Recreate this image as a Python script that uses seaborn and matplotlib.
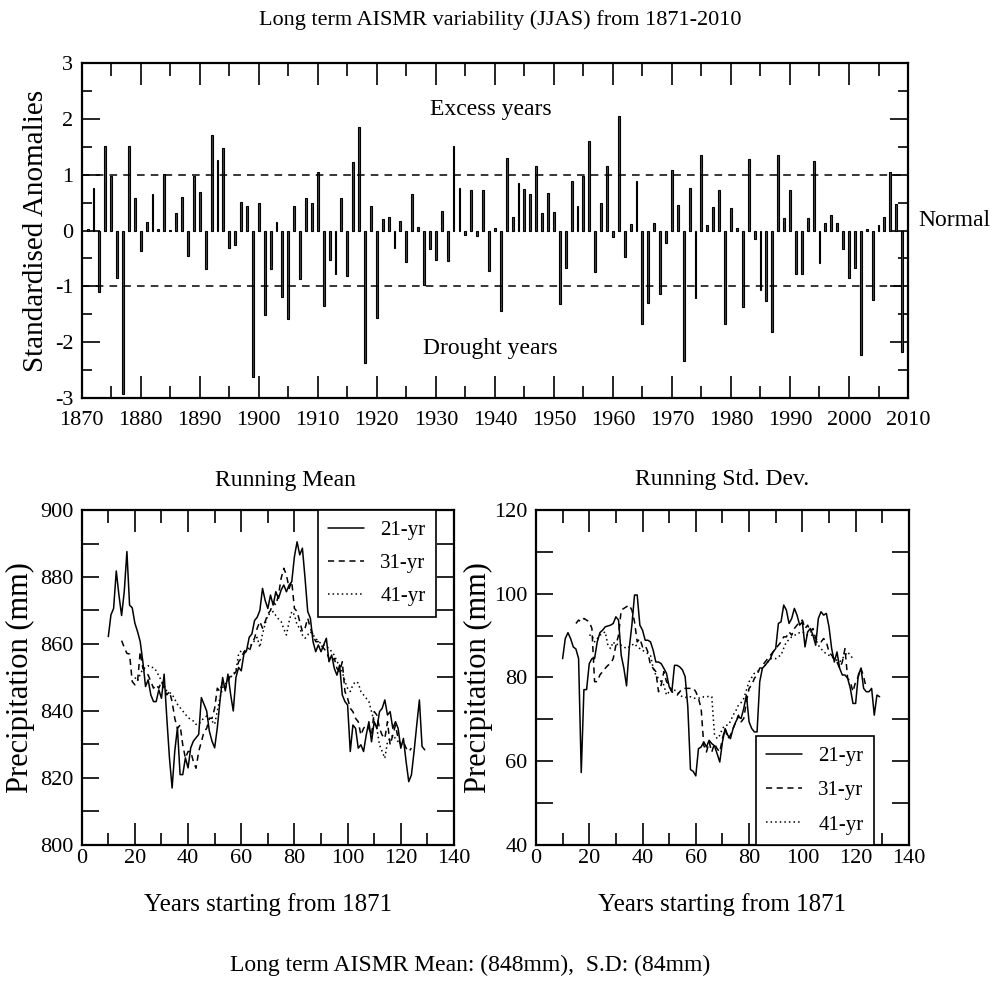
import numpy as np
import pandas as pd
import matplotlib
matplotlib.use("Agg")
import matplotlib.pyplot as plt
import seaborn as sns

# ---------------- data ----------------
years = list(range(1871, 2011))
anomaly = [
    0.02, 0.77, -1.10, 1.51, 0.98, -0.85, -2.92, 1.52, 0.59, -0.36,
    0.16, 0.66, 0.02, 1.01, 0.01, 0.31, 0.60, -0.46, 0.98, 0.69,
    -0.69, 1.71, 1.27, 1.47, -0.31, -0.26, 0.51, 0.44, -2.63, 0.49,
    -1.51, -0.69, 0.15, -1.19, -1.59, 0.44, -0.86, 0.59, 0.49, 1.04,
    -1.35, -0.52, -0.78, 0.59, -0.82, 1.22, 1.86, -2.37, 0.43, -1.56,
    0.21, 0.25, -0.31, 0.17, -0.56, 0.65, 0.06, -0.97, -0.33, -0.53,
    0.35, -0.55, 1.52, 0.77, -0.08, 0.72, -0.09, 0.72, -0.72, 0.05,
    -1.44, 1.30, 0.24, 0.85, 0.75, 0.66, 1.16, 0.31, 0.67, 0.34,
    -1.31, -0.68, 0.88, 0.44, 0.97, 1.61, -0.74, 0.49, 1.15, -0.12,
    2.05, -0.47, 0.11, 0.88, -1.67, -1.30, 0.13, -1.13, -0.23, 1.09,
    0.45, -2.34, 0.77, -1.21, 1.36, 0.10, 0.42, 0.73, -1.68, 0.41,
    0.05, -1.37, 1.28, -0.15, -1.07, -1.27, -1.81, 1.35, 0.22, 0.72,
    -0.77, -0.77, 0.22, 1.24, -0.59, 0.13, 0.27, 0.13, -0.33, -0.85,
    -0.67, -2.23, 0.03, -1.25, 0.09, 0.25, 1.04, 0.47, -2.17, 0.05,
]
top_xticks = [1870, 1880, 1890, 1900, 1910, 1920, 1930, 1940, 1950, 1960, 1970, 1980, 1990, 2000, 2010]

t21 = list(range(10, 130))
t31 = list(range(15, 125))
t41 = list(range(20, 120))

mean21 = [
    862.2, 868.7, 870.6, 881.8, 874.6, 868.5, 875.6, 887.6, 871.6, 870.8,
    866.2, 863.7, 860.7, 854.7, 847.3, 849.3, 844.8, 842.8, 842.8, 846.3,
    843.8, 851.0, 838.0, 826.0, 817.0, 828.0, 835.0, 821.0, 821.0, 826.0,
    823.0, 829.0, 831.0, 832.0, 833.0, 844.0, 842.0, 840.0, 834.0, 831.0,
    829.0, 835.0, 843.0, 850.0, 846.0, 851.0, 845.0, 840.0, 850.0, 853.0,
    852.0, 857.0, 858.0, 862.0, 863.0, 867.0, 868.0, 870.0, 876.6, 873.0,
    870.6, 874.6, 871.6, 875.6, 873.6, 876.1, 877.6, 875.6, 877.6, 878.6,
    886.1, 890.5, 886.6, 888.6, 879.6, 869.7, 867.7, 860.7, 857.7, 859.7,
    857.7, 859.7, 861.7, 854.7, 856.7, 852.7, 850.7, 853.7, 844.8, 842.8,
    841.8, 827.9, 835.8, 834.8, 828.9, 829.9, 827.9, 832.8, 836.8, 830.8,
    836.8, 834.8, 839.8, 840.8, 843.3, 838.8, 839.8, 834.8, 836.8, 834.8,
    828.9, 831.8, 824.9, 818.9, 820.9, 827.9, 835.8, 843.3, 829.4, 828.4,
]
mean31 = [
    861.0, 859.0, 857.2, 857.0, 848.8, 847.8, 848.8, 857.7, 852.7, 851.7,
    850.7, 848.8, 846.8, 847.8, 846.8, 848.8, 846.8, 844.8, 845.8, 842.8,
    837.8, 834.8, 835.8, 829.9, 825.9, 827.9, 827.9, 824.9, 822.9, 827.9,
    830.8, 833.8, 834.8, 837.8, 837.8, 840.8, 846.8, 845.8, 848.8, 846.8,
    848.8, 850.7, 850.7, 851.7, 854.7, 855.7, 857.7, 857.7, 857.7, 860.2,
    861.7, 864.7, 866.7, 864.7, 866.7, 869.0, 870.0, 872.6, 871.6, 874.6,
    879.6, 882.6, 880.6, 876.6, 878.6, 870.6, 869.7, 866.7, 863.7, 864.7,
    867.7, 864.7, 862.7, 860.7, 860.7, 859.7, 858.7, 857.7, 855.7, 854.7,
    855.7, 852.7, 851.7, 854.7, 845.8, 843.8, 840.8, 839.8, 837.8, 836.8,
    832.8, 834.8, 835.8, 834.8, 832.8, 839.8, 838.8, 834.8, 832.8, 831.8,
    836.8, 829.9, 832.8, 835.8, 831.8, 829.9, 830.8, 828.9, 827.9, 828.9,
]
mean41 = [
    850.0, 849.0, 851.0, 852.5, 853.0, 853.5, 853.0, 853.0, 852.0, 850.5,
    849.0, 847.5, 846.0, 845.5, 845.0, 843.5, 842.0, 841.0, 840.0, 839.0,
    838.0, 837.5, 837.0, 836.0, 836.0, 837.0, 838.0, 838.5, 838.0, 837.0,
    836.0, 840.0, 844.0, 847.0, 848.0, 849.0, 850.0, 851.0, 852.0, 857.0,
    858.0, 858.0, 858.0, 859.0, 860.0, 861.0, 862.0, 859.0, 863.0, 866.0,
    868.7, 869.0, 869.7, 868.5, 867.5, 866.7, 864.5, 862.7, 866.7, 869.7,
    868.7, 865.7, 864.7, 862.7, 861.7, 862.7, 863.7, 862.7, 861.7, 860.7,
    860.2, 859.7, 859.2, 858.7, 857.7, 856.7, 854.7, 853.7, 851.7, 848.8,
    846.8, 845.8, 847.8, 848.8, 848.3, 845.8, 844.8, 843.8, 842.8, 839.8,
    836.8, 834.8, 829.9, 827.9, 825.9, 830.8, 831.8, 832.8, 831.8, 830.8,
]

sd21 = [
    84.5, 89.3, 90.7, 89.3, 87.3, 86.8, 84.5, 57.3, 77.1, 77.1,
    83.3, 84.5, 84.5, 88.5, 90.7, 91.3, 92.1, 92.3, 92.5, 92.9,
    94.5, 93.7, 85.3, 82.2, 78.0, 86.9, 92.5, 99.7, 99.7, 92.5,
    91.3, 88.9, 88.9, 88.5, 86.5, 83.7, 83.7, 83.3, 82.2, 81.0,
    77.8, 76.6, 82.9, 82.9, 82.5, 81.8, 80.2, 73.0, 58.0, 57.6,
    56.5, 63.0, 63.4, 64.6, 63.4, 65.0, 64.2, 63.7, 61.8, 59.8,
    64.6, 67.8, 66.2, 65.4, 67.8, 69.4, 70.6, 70.2, 72.6, 75.8,
    69.4, 67.8, 67.0, 67.0, 79.0, 82.2, 82.9, 83.7, 84.5, 86.1,
    86.9, 92.9, 93.3, 97.3, 96.1, 92.9, 94.1, 96.5, 94.9, 92.5,
    93.3, 87.3, 90.9, 91.7, 90.1, 87.7, 94.1, 95.7, 94.9, 95.3,
    92.1, 86.9, 83.7, 86.1, 82.2, 80.6, 80.6, 79.8, 77.4, 73.8,
    73.8, 80.6, 82.2, 77.4, 76.6, 76.6, 77.4, 71.0, 75.8, 75.4,
]
sd31 = [
    92.9, 93.7, 93.3, 94.1, 93.7, 93.3, 91.7, 79.0, 79.0, 80.6,
    81.4, 82.2, 82.9, 83.3, 84.5, 87.7, 90.1, 96.1, 96.5, 96.9,
    97.3, 96.1, 93.3, 88.5, 89.3, 87.3, 87.7, 86.1, 82.9, 82.2,
    81.4, 76.6, 78.2, 81.4, 79.0, 78.2, 76.6, 76.2, 75.8, 76.6,
    77.4, 77.4, 77.4, 77.4, 77.5, 76.6, 75.0, 72.6, 63.8, 62.2,
    64.6, 62.2, 64.2, 63.0, 62.2, 65.4, 67.8, 65.4, 66.2, 67.8,
    69.4, 71.0, 69.4, 70.2, 74.2, 77.4, 78.2, 79.8, 80.6, 82.2,
    82.9, 83.7, 84.5, 85.3, 86.1, 86.9, 87.7, 88.5, 89.7, 89.7,
    90.9, 90.1, 91.7, 92.5, 93.3, 93.7, 91.7, 92.5, 90.9, 91.7,
    89.3, 88.5, 88.5, 89.3, 88.5, 86.1, 85.3, 84.5, 83.7, 82.2,
    83.7, 86.9, 79.8, 79.0, 76.6, 79.0, 80.2, 82.2, 80.2, 77.4,
]
sd41 = [
    90.1, 90.1, 88.5, 89.3, 90.1, 90.5, 90.9, 87.7, 86.9, 88.5,
    87.7, 88.1, 87.7, 87.3, 86.9, 87.3, 87.7, 88.1, 87.3, 86.9,
    86.5, 86.1, 85.7, 85.3, 82.2, 80.6, 79.8, 79.0, 78.2, 75.8,
    76.6, 77.4, 77.0, 76.6, 75.8, 75.4, 75.2, 75.4, 75.4, 75.1,
    75.0, 75.1, 75.0, 75.4, 75.4, 75.5, 75.4, 66.5, 65.4, 66.2,
    67.8, 68.6, 68.6, 69.5, 71.0, 72.0, 73.4, 74.0, 75.0, 77.0,
    79.0, 80.0, 81.0, 81.4, 81.8, 82.4, 82.9, 83.7, 84.5, 84.5,
    84.5, 85.0, 85.3, 87.0, 88.5, 89.0, 89.7, 90.0, 90.5, 90.7,
    90.9, 90.5, 90.1, 90.1, 90.1, 89.3, 87.7, 86.9, 86.1, 85.7,
    85.3, 84.9, 84.5, 84.1, 83.7, 84.5, 85.3, 86.1, 85.3, 84.5,
]
window_labels = ["21-yr", "31-yr", "41-yr"]

# ---------------- style ----------------
sns.set_style("ticks")
plt.rcParams['font.family'] = ['Liberation Serif', 'DejaVu Serif']
plt.rcParams['axes.linewidth'] = 1.6
plt.rcParams['axes.edgecolor'] = 'black'
plt.rcParams['axes.unicode_minus'] = False
plt.rcParams['text.color'] = 'black'
plt.rcParams['axes.labelcolor'] = 'black'
plt.rcParams['xtick.color'] = 'black'
plt.rcParams['ytick.color'] = 'black'

fig = plt.figure(figsize=(9.94, 9.84), dpi=100)

def style_ticks(ax, xmaj, xmin, ymaj, ymin, xpad, ypad):
    ax.tick_params(which='both', direction='in', top=True, right=True,
                   colors='black', width=1.2, labelsize=16)
    ax.tick_params(axis='x', which='major', length=xmaj, pad=xpad)
    ax.tick_params(axis='x', which='minor', length=xmin)
    ax.tick_params(axis='y', which='major', length=ymaj, pad=ypad)
    ax.tick_params(axis='y', which='minor', length=ymin)

def style_legend(leg):
    fr = leg.get_frame()
    fr.set_edgecolor('black')
    fr.set_linewidth(1.2)
    fr.set_alpha(1)
    for txt in leg.get_texts():
        txt.set_color('black')

# ---------------- top panel ----------------
ax1 = fig.add_axes([0.0822, 0.5955, 0.8313, 0.3405])
df_top = pd.DataFrame({"year": years, "anom": anomaly})
sns.barplot(data=df_top, x="year", y="anom", native_scale=True, width=0.32,
            color="#444444", saturation=1, edgecolor="black", linewidth=0.8,
            errorbar=None, ax=ax1)
ax1.axhline(1, color='black', lw=1.1, ls=(0, (5, 4)))
ax1.axhline(-1, color='black', lw=1.1, ls=(0, (5, 4)))
ax1.set_xlim(1870, 2010)
ax1.set_ylim(-3, 3)
ax1.set_xticks(top_xticks)
ax1.set_xticklabels([str(v) for v in top_xticks])
ax1.set_xticks(np.arange(1875, 2010, 10), minor=True)
ax1.set_yticks([-3, -2, -1, 0, 1, 2, 3])
ax1.set_yticks(np.arange(-2.5, 3, 1.0), minor=True)
ax1.set_xlabel("")
ax1.set_ylabel("Standardised Anomalies", fontsize=21)
ax1.yaxis.set_label_coords(-0.040, 0.5)
style_ticks(ax1, 16, 9, 13, 7, 9, 6)
ax1.text(1939.3, 2.16, "Excess years", fontsize=17, ha='center', va='center')
ax1.text(1939.3, -2.12, "Drought years", fontsize=17, ha='center', va='center')
fig.text(918 / 994, 1 - 220 / 984, "Normal", fontsize=17, ha='left', va='center')
fig.text(500 / 994, 1 - 20 / 984, "Long term AISMR variability (JJAS) from 1871-2010",
         fontsize=16, ha='center', va='center')

# ---------------- bottom panels ----------------
styles = ['-', (0, (4, 3)), (0, (1, 2))]

ax2 = fig.add_axes([0.0822, 0.1413, 0.3745, 0.3404])
for tt, vv, lab, ls in zip([t21, t31, t41], [mean21, mean31, mean41], window_labels, styles):
    sns.lineplot(x=tt, y=vv, ax=ax2, color='black', lw=1.1, linestyle=ls, label=lab,
                 estimator=None)
ax2.set_xlim(0, 140)
ax2.set_ylim(800, 900)
ax2.set_xticks(np.arange(0, 141, 20))
ax2.set_xticks(np.arange(10, 140, 20), minor=True)
ax2.set_yticks(np.arange(800, 901, 20))
ax2.set_yticks(np.arange(810, 900, 20), minor=True)
style_ticks(ax2, 16, 9, 12, 12, 3, 6)
ax2.set_xlabel("Years starting from 1871", fontsize=18, labelpad=18)
ax2.set_ylabel("Precipitation (mm)", fontsize=22)
ax2.yaxis.set_label_coords(-0.125, 0.5)
leg2 = ax2.legend(loc='upper right', bbox_to_anchor=(0.952, 1.0), borderaxespad=0,
                  fontsize=15, frameon=True, fancybox=False, handlelength=1.7,
                  handletextpad=0.8, borderpad=0.5, labelspacing=0.65)
style_legend(leg2)
fig.text(285 / 994, 1 - 481 / 984, "Running Mean", fontsize=17, ha='center', va='center')

ax3 = fig.add_axes([0.5392, 0.1413, 0.3752, 0.3404])
for tt, vv, lab, ls in zip([t21, t31, t41], [sd21, sd31, sd41], window_labels, styles):
    sns.lineplot(x=tt, y=vv, ax=ax3, color='black', lw=1.1, linestyle=ls, label=lab,
                 estimator=None)
ax3.set_xlim(0, 140)
ax3.set_ylim(40, 120)
ax3.set_xticks(np.arange(0, 141, 20))
ax3.set_xticks(np.arange(10, 140, 20), minor=True)
ax3.set_yticks(np.arange(40, 121, 20))
ax3.set_yticks(np.arange(50, 120, 20), minor=True)
style_ticks(ax3, 16, 9, 12, 12, 3, 6)
ax3.set_xlabel("Years starting from 1871", fontsize=18, labelpad=18)
ax3.set_ylabel("Precipitation (mm)", fontsize=22)
ax3.yaxis.set_label_coords(-0.115, 0.5)
leg3 = ax3.legend(loc='lower right', bbox_to_anchor=(0.906, 0.0), borderaxespad=0,
                  fontsize=15, frameon=True, fancybox=False, handlelength=1.7,
                  handletextpad=0.8, borderpad=0.5, labelspacing=0.7)
style_legend(leg3)
fig.text(722 / 994, 1 - 480 / 984, "Running Std. Dev.", fontsize=17, ha='center', va='center')

fig.text(470 / 994, 1 - 965 / 984, "Long term AISMR Mean: (848mm),  S.D: (84mm)",
         fontsize=17, ha='center', va='center')

fig.savefig("out.png", dpi=100)
